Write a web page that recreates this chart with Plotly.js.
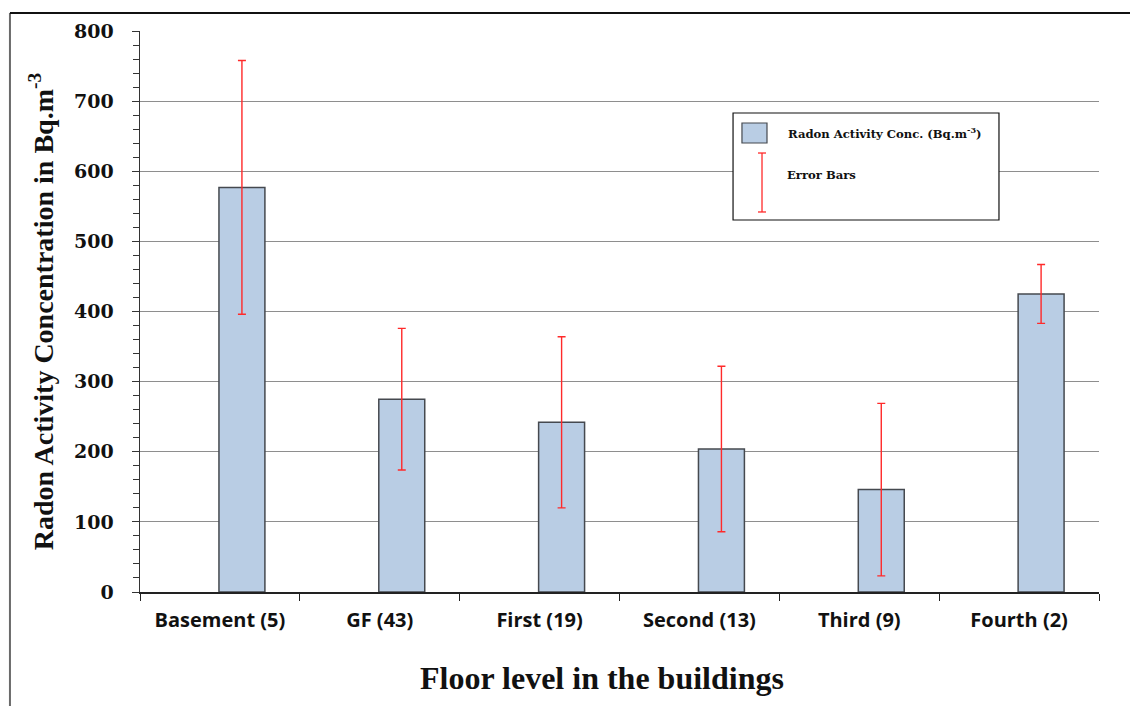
<!DOCTYPE html>
<html>
<head>
<meta charset="utf-8">
<script src="https://cdn.plot.ly/plotly-3.0.1.min.js"></script>
<style>
  html, body { margin: 0; padding: 0; background: #ffffff; }
  #chart { width: 1130px; height: 706px; }
</style>
</head>
<body>
<div id="chart"></div>
<script>
// Floor levels (number of dwellings sampled in brackets)
const floors = ['Basement (5)', 'GF (43)', 'First (19)', 'Second (13)', 'Third (9)', 'Fourth (2)'];
// Mean radon activity concentration, Bq.m^-3
const radonMean = [577, 275, 242, 204, 146, 425];
// Standard deviation shown as error bars, Bq.m^-3
const radonSD = [181, 101, 122, 118, 123, 42];
const yTickVals = [0, 100, 200, 300, 400, 500, 600, 700, 800];

const barFill = '#b9cde4';
const barEdge = '#45494f';
const errRed = '#ff2a2a';

// bars sit just right of each category centre, as in a two-slot cluster
const bars = {
  type: 'bar',
  x: floors,
  y: radonMean,
  width: 0.2875,
  offset: -0.006,
  marker: { color: barFill, line: { color: barEdge, width: 1.5 } },
  error_y: { type: 'data', array: radonSD, visible: true, color: errRed, thickness: 1.4, width: 4 },
  showlegend: false,
  hoverinfo: 'x+y'
};

// legend block drawn in paper space
const lgX0 = 0.6184, lgX1 = 0.8957, lgY0 = 0.6631, lgY1 = 0.8538;
const errX = 0.6486, errY0 = 0.6774, errY1 = 0.7825, capW = 0.0042;

const layout = {
  width: 1130,
  height: 706,
  margin: { l: 140, r: 31, t: 31, b: 114 },
  paper_bgcolor: '#ffffff',
  plot_bgcolor: '#ffffff',
  xaxis: {
    type: 'category',
    range: [-0.5, 5.5],
    tickson: 'boundaries',
    ticks: 'outside',
    ticklen: 7,
    tickcolor: '#222',
    showline: true,
    linecolor: '#222',
    linewidth: 1.5,
    showgrid: false,
    ticklabelstandoff: 9,
    tickfont: { family: '"Open Sans", Lato, sans-serif', size: 20, color: '#111', weight: 'bold' },
    automargin: false
  },
  yaxis: {
    range: [0, 800],
    tickvals: yTickVals,
    ticktext: yTickVals.map(v => '<b>' + v + '</b>'),
    ticks: 'outside',
    ticklen: 7,
    tickcolor: '#333',
    showline: true,
    linecolor: '#333',
    linewidth: 1.5,
    showgrid: true,
    gridcolor: '#8e8e8e',
    gridwidth: 1,
    zeroline: false,
    minor: { dtick: 20, ticks: 'outside', ticklen: 6, tickcolor: '#333', showgrid: false },
    ticklabelstandoff: 14,
    tickfont: { family: '"DejaVu Serif", serif', size: 19, color: '#111' },
    title: {
      text: '<b>Radon Activity Concentration in Bq.m<sup>-3</sup></b>',
      font: { family: '"Liberation Serif", "DejaVu Serif", serif', size: 28, color: '#111' },
      standoff: 12
    },
    automargin: false
  },
  shapes: [
    // outer frame: left and top edges
    { type: 'line', xref: 'paper', yref: 'paper', x0: -0.1356, x1: -0.1356, y0: 1.0321, y1: -0.21,
      line: { color: '#6a6a6a', width: 2 } },
    { type: 'line', xref: 'paper', yref: 'paper', x0: -0.1356, x1: 1.04, y0: 1.0321, y1: 1.0321,
      line: { color: '#111', width: 2 } },
    // legend box
    { type: 'rect', xref: 'paper', yref: 'paper', x0: lgX0, x1: lgX1, y0: lgY0, y1: lgY1,
      fillcolor: '#ffffff', line: { color: '#111', width: 1.2 } },
    // legend swatch
    { type: 'rect', xref: 'paper', yref: 'paper', x0: 0.6277, x1: 0.6538, y0: 0.8004, y1: 0.8360,
      fillcolor: barFill, line: { color: barEdge, width: 1.2 } },
    // legend error-bar symbol
    { type: 'line', xref: 'paper', yref: 'paper', x0: errX, x1: errX, y0: errY0, y1: errY1,
      line: { color: errRed, width: 1.3 } },
    { type: 'line', xref: 'paper', yref: 'paper', x0: errX - capW, x1: errX + capW, y0: errY0, y1: errY0,
      line: { color: errRed, width: 1.3 } },
    { type: 'line', xref: 'paper', yref: 'paper', x0: errX - capW, x1: errX + capW, y0: errY1, y1: errY1,
      line: { color: errRed, width: 1.3 } }
  ],
  annotations: [
    // x-axis title, set slightly left of the plot centre
    { xref: 'paper', yref: 'paper', x: 0.4818, y: -0.1533, xanchor: 'center', yanchor: 'middle', showarrow: false,
      text: '<b>Floor level in the buildings</b>',
      font: { family: '"Liberation Serif", "DejaVu Serif", serif', size: 32, color: '#111' } },
    { xref: 'paper', yref: 'paper', x: 0.6736, y: 0.8182, xanchor: 'left', yanchor: 'middle', showarrow: false,
      text: '<b>Radon Activity Conc. (Bq.m<sup>-3</sup>)</b>',
      font: { family: '"DejaVu Serif", serif', size: 11.6, color: '#111' } },
    { xref: 'paper', yref: 'paper', x: 0.6726, y: 0.7433, xanchor: 'left', yanchor: 'middle', showarrow: false,
      text: '<b>Error Bars</b>',
      font: { family: '"DejaVu Serif", serif', size: 11.6, color: '#111' } }
  ]
};

Plotly.newPlot('chart', [bars], layout, { displayModeBar: false, staticPlot: true });
</script>
</body>
</html>
